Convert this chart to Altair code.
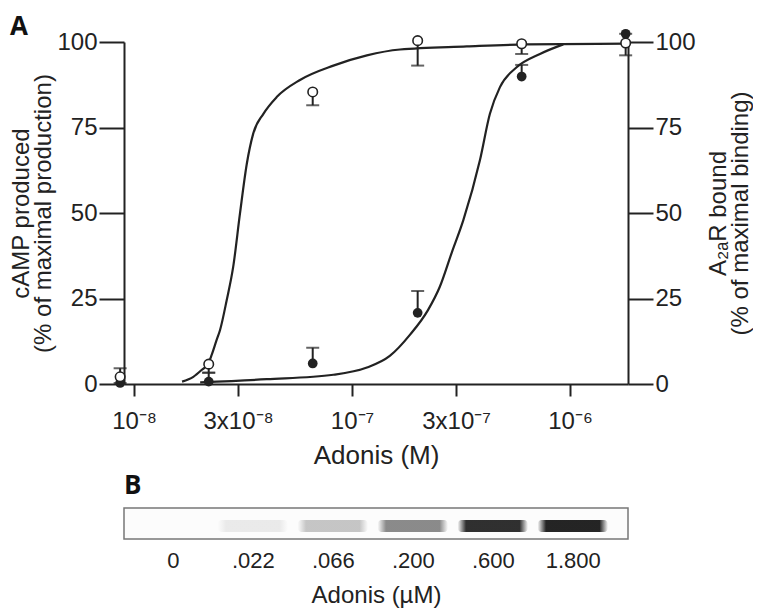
import altair as alt
import pandas as pd
import math

# ---------------- Panel A data ----------------
dose_labels = ["0", ".022", ".066", ".200", ".600", "1.800"]          # µM
# molar position of each dose (first entry = plotting position used for the zero dose)
dose_M = [8.63e-9, 2.2e-8, 6.6e-8, 2.0e-7, 6.0e-7, 1.8e-6]

camp_mean = [2.1, 5.8, 85.4, 100.4, 99.5, 99.7]        # open circles, % max cAMP
camp_err_end = [4.6, 3.3, 81.5, 93.1, 96.5, 96.1]
bind_mean = [0.3, 0.7, 6.0, 20.8, 89.9, 102.4]         # filled circles, % max binding
bind_err_end = [0.3, 3.3, 10.6, 27.2, 93.3, 102.4]

camp_fit_M = [1.66e-8, 1.87e-8, 2.04e-8, 2.19e-8, 2.27e-8, 2.39e-8, 2.48e-8, 2.66e-8,
              2.85e-8, 3.06e-8, 3.29e-8, 3.52e-8, 3.92e-8, 4.51e-8, 5.77e-8, 8.21e-8,
              1.17e-7, 1.66e-7, 3.36e-7, 6.33e-7, 1.82e-6]
camp_fit_pct = [0.7, 2.1, 4.1, 6.0, 8.5, 12.8, 15.8, 24.5, 34.3, 49.8, 64.4, 73.2, 79.0,
                83.9, 88.9, 93.1, 96.1, 97.8, 98.7, 99.3, 99.5]

bind_fit_M = [2.01e-8, 4.06e-8, 8.21e-8, 1.17e-7, 1.49e-7, 1.85e-7, 2.23e-7, 2.53e-7,
              2.87e-7, 3.24e-7, 3.86e-7, 4.29e-7, 4.77e-7, 5.69e-7, 7.28e-7, 9.31e-7]
bind_fit_pct = [0.5, 1.4, 2.7, 4.8, 8.2, 14.5, 21.6, 28.5, 38.5, 47.9, 65.4, 79.0, 86.8,
                92.6, 96.5, 99.3]

x_tick_values = [1e-8, 3e-8, 1e-7, 3e-7, 1e-6]
x_tick_labels = ["10⁻⁸", "3x10⁻⁸", "10⁻⁷", "3x10⁻⁷", "10⁻⁶"]
x_domain = [8.99e-9, 1.845e-6]
y_ticks = [0, 25, 50, 75, 100]

# ---------------- Panel B data ----------------
lane_index = [0, 1, 2, 3, 4, 5]
band_intensity = [0.0, 0.08, 0.24, 0.5, 0.9, 0.95]

INK = "#222222"

df_camp = pd.DataFrame({"M": dose_M, "pct": camp_mean, "err": camp_err_end})
df_bind = pd.DataFrame({"M": dose_M, "pct": bind_mean, "err": bind_err_end})
df_camp_fit = pd.DataFrame({"M": camp_fit_M, "pct": camp_fit_pct})
df_bind_fit = pd.DataFrame({"M": bind_fit_M, "pct": bind_fit_pct})

label_expr = ""
for v, lab in zip(x_tick_values, x_tick_labels):
    label_expr += f"abs(log(datum.value)/LN10 - ({math.log10(v):.4f})) < 0.05 ? '{lab}' : "
label_expr += "''"

x_axis = alt.Axis(values=x_tick_values, labelExpr=label_expr, title="Adonis (M)",
                  grid=False, domainColor=INK, domainWidth=2, tickColor=INK, tickWidth=2,
                  tickSize=12, labelFontSize=24, labelColor=INK, labelPadding=13,
                  labelFlush=False, labelOverlap=False, titleFontSize=26,
                  titleFontWeight="normal", titleColor=INK, titlePadding=9)
X = alt.X("M:Q", scale=alt.Scale(type="log", domain=x_domain, nice=False), axis=x_axis)

def yaxis(orient, title, angle, tpad):
    return alt.Axis(orient=orient, values=y_ticks, title=title, grid=False,
                    domainColor=INK, domainWidth=2, tickColor=INK, tickWidth=2, tickSize=25,
                    labelFontSize=24, labelColor=INK, labelPadding=2,
                    titleFontSize=24, titleFontWeight="normal", titleColor=INK,
                    titlePadding=tpad, titleLineHeight=22, titleAngle=angle)

yscale = alt.Scale(domain=[0, 100], nice=False, zero=False)

def Y(field, axis=None):
    return alt.Y(f"{field}:Q", scale=yscale, axis=axis)

curve_camp = alt.Chart(df_camp_fit).mark_line(color=INK, strokeWidth=2.2, interpolate="monotone").encode(
    x=X, y=Y("pct", yaxis("left", ["cAMP produced", "(% of maximal production)"], 270, 1)))
curve_bind = alt.Chart(df_bind_fit).mark_line(color=INK, strokeWidth=2.2, interpolate="monotone").encode(
    x=X, y=Y("pct", yaxis("right", ["A₂ₐR bound", "(% of maximal binding)"], 270, 13)))

def errbars(df):
    rule = alt.Chart(df).mark_rule(color=INK, strokeWidth=2).encode(x=X, y=Y("pct"), y2="err")
    cap = alt.Chart(df).mark_tick(color=INK, orient="horizontal", size=13, thickness=2).encode(
        x=X, y=Y("err"))
    return [rule, cap]

pts_bind = alt.Chart(df_bind).mark_point(shape="circle", filled=True, color=INK, size=95, opacity=1).encode(
    x=X, y=Y("pct"))
pts_camp = alt.Chart(df_camp).mark_point(shape="circle", filled=True, fill="white", stroke=INK,
                                         strokeWidth=1.6, size=90, opacity=1).encode(x=X, y=Y("pct"))

panel_a = alt.layer(
    curve_camp, curve_bind, *errbars(df_bind), *errbars(df_camp), pts_bind, pts_camp
).resolve_scale(y="independent").properties(
    width=504, height=342,
    title=alt.TitleParams("A", anchor="start", frame="bounds", fontSize=26, fontWeight="bold",
                          font="Open Sans", color="#111", offset=-11),
    view=alt.ViewBackground(strokeWidth=0),
)

# ---------------- Panel B ----------------
df_b = pd.DataFrame({"lane": lane_index, "intensity": band_intensity})
df_b["x0"] = df_b["lane"] - 0.44
df_b["x1"] = df_b["lane"] + 0.44

band_fill = {
    "gradient": "linear", "x1": 0, "y1": 0, "x2": 1, "y2": 0,
    "stops": [
        {"offset": 0, "color": "rgba(25,25,25,0)"},
        {"offset": 0.12, "color": "rgba(25,25,25,1)"},
        {"offset": 0.88, "color": "rgba(25,25,25,1)"},
        {"offset": 1, "color": "rgba(25,25,25,0)"},
    ],
}
lane_expr = "[" + ",".join(f"'{s}'" for s in dose_labels) + "][datum.value]"

bx_axis = alt.Axis(values=lane_index, labelExpr=lane_expr, title="Adonis (µM)", grid=False,
                   domain=False, ticks=False, labelFontSize=22, labelColor=INK, labelPadding=11,
                   labelFlush=False, titleFontSize=24, titleFontWeight="normal",
                   titleColor=INK, titlePadding=12)

panel_b = alt.Chart(df_b).mark_rect(fill=band_fill, cornerRadius=4).encode(
    x=alt.X("x0:Q", scale=alt.Scale(domain=[-0.61, 5.69], nice=False, zero=False), axis=bx_axis),
    x2="x1",
    y=alt.value(12), y2=alt.value(24),
    opacity=alt.Opacity("intensity:Q", scale=None, legend=None),
).properties(
    width=504, height=31,
    title=alt.TitleParams("B", anchor="start", frame="bounds", fontSize=26, fontWeight="bold",
                          font="Open Sans", color="#111", offset=9),
    view=alt.ViewBackground(stroke="#777777", strokeWidth=1.5, fill="#fcfcfc"),
)

chart = alt.vconcat(panel_a, panel_b, spacing=4).properties(
    padding={"left": 1, "top": 5, "right": 0, "bottom": 0}
).configure(font="Liberation Sans")

chart.save("out.html", embed_options={"renderer": "svg", "actions": False})
